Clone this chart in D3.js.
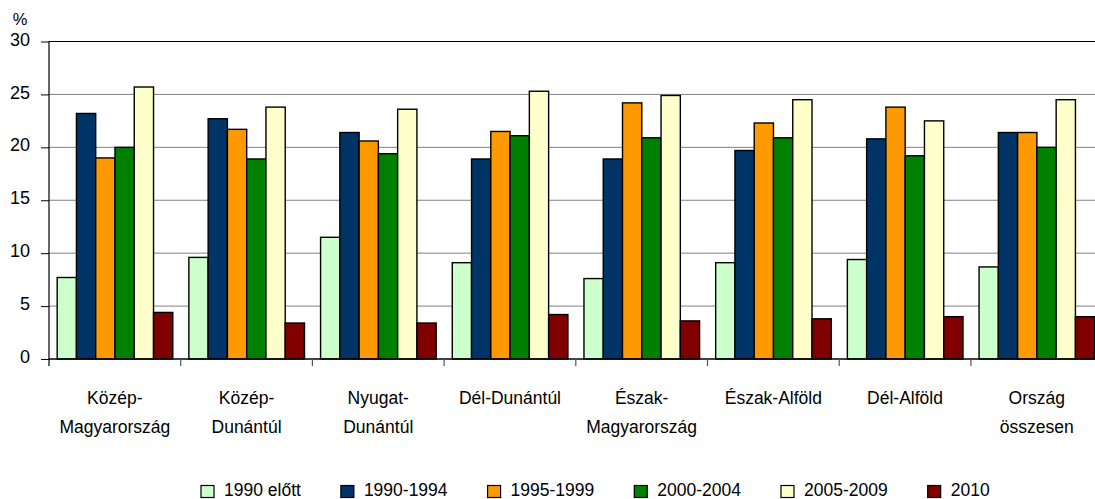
<!DOCTYPE html>
<html>
<head>
<meta charset="utf-8">
<script src="https://cdn.jsdelivr.net/npm/d3@7"></script>
<style>
	body { margin: 0; background: #fff; }
	svg { display: block; font-family: "Liberation Sans", Arial, sans-serif; }
</style>
</head>
<body>
<svg id="chart" width="1095" height="499"></svg>
<script>
// regions (line breaks as in the original labels)
var categories = [
	"Közép-\nMagyarország",
	"Közép-\nDunántúl",
	"Nyugat-\nDunántúl",
	"Dél-Dunántúl",
	"Észak-\nMagyarország",
	"Észak-Alföld",
	"Dél-Alföld",
	"Ország\nösszesen"
];

var seriesNames = ["1990 előtt", "1990-1994", "1995-1999", "2000-2004", "2005-2009", "2010"];
var seriesColors = ["#ccffcc", "#003366", "#ff9900", "#008000", "#ffffcc", "#800000"];

// values in %, one array per period, in the order of categories
var before1990 = [7.7, 9.6, 11.5, 9.1, 7.6, 9.1, 9.4, 8.7];
var p1990_1994 = [23.2, 22.7, 21.4, 18.9, 18.9, 19.7, 20.8, 21.4];
var p1995_1999 = [19.0, 21.7, 20.6, 21.5, 24.2, 22.3, 23.8, 21.4];
var p2000_2004 = [20.0, 18.9, 19.4, 21.1, 20.9, 20.9, 19.2, 20.0];
var p2005_2009 = [25.7, 23.8, 23.6, 25.3, 24.9, 24.5, 22.5, 24.5];
var y2010 = [4.4, 3.4, 3.4, 4.2, 3.6, 3.8, 4.0, 4.0];

var seriesValues = [before1990, p1990_1994, p1995_1999, p2000_2004, p2005_2009, y2010];
var yTicks = [0, 5, 10, 15, 20, 25, 30];

var svg = d3.select("#chart");

// plot area (the last group runs past the right edge, as in the original)
var plotLeft = 49, plotTop = 41.5, plotBottom = 359, groupW = 131.7;
var plotRight = plotLeft + groupW * categories.length;

var x0 = d3.scaleBand()
	.domain(d3.range(categories.length))
	.range([plotLeft, plotRight])
	.padding(0);

var x1 = d3.scaleBand()
	.domain(d3.range(seriesNames.length))
	.range([x0.bandwidth() * 0.062, x0.bandwidth() * 0.94])
	.padding(0);

var y = d3.scaleLinear()
	.domain([0, 30])
	.range([plotBottom, plotTop]);

// gridlines
svg.append("g")
	.selectAll("line")
	.data(yTicks.filter(function(d) { return d > 0 && d < 30; }))
	.enter().append("line")
		.attr("x1", plotLeft).attr("x2", 1095)
		.attr("y1", function(d) { return y(d); })
		.attr("y2", function(d) { return y(d); })
		.attr("stroke", "#808080")
		.attr("stroke-width", 1);

// top border
svg.append("line")
	.attr("x1", plotLeft).attr("x2", 1095)
	.attr("y1", y(30)).attr("y2", y(30))
	.attr("stroke", "#000").attr("stroke-width", 1.2);

// bars
var groups = svg.append("g")
	.selectAll("g")
	.data(categories)
	.enter().append("g")
		.attr("transform", function(d, i) { return "translate(" + x0(i) + ",0)"; });

groups.selectAll("rect")
	.data(function(d, i) { return seriesValues.map(function(s, k) { return { k: k, v: s[i] }; }); })
	.enter().append("rect")
		.attr("x", function(d) { return x1(d.k); })
		.attr("width", x1.bandwidth())
		.attr("y", function(d) { return y(d.v); })
		.attr("height", function(d) { return y(0) - y(d.v); })
		.attr("fill", function(d) { return seriesColors[d.k]; })
		.attr("stroke", "#000")
		.attr("stroke-width", 1.4);

// y axis
var yAxis = svg.append("g")
	.attr("transform", "translate(" + plotLeft + ",0)")
	.call(d3.axisLeft(y).tickValues(yTicks).tickSize(8).tickPadding(11).tickFormat(d3.format("d")));
yAxis.select(".domain").remove();
yAxis.selectAll(".tick line").attr("stroke", "#000");
yAxis.selectAll(".tick text")
	.attr("font-size", 18)
	.attr("fill", "#000")
	.attr("font-family", "Liberation Sans, Arial, sans-serif")
	.attr("dy", "0.2em");

svg.append("line")
	.attr("x1", plotLeft).attr("x2", plotLeft)
	.attr("y1", plotTop).attr("y2", plotBottom + 7)
	.attr("stroke", "#000").attr("stroke-width", 1.2);

svg.append("text")
	.attr("x", 20).attr("y", 25)
	.attr("text-anchor", "middle")
	.attr("font-size", 16.5)
	.text("%");

// x axis
svg.append("line")
	.attr("x1", plotLeft).attr("x2", 1095)
	.attr("y1", plotBottom).attr("y2", plotBottom)
	.attr("stroke", "#000").attr("stroke-width", 1.4);

svg.append("g")
	.selectAll("line")
	.data(d3.range(1, categories.length + 1))
	.enter().append("line")
		.attr("x1", function(d) { return plotLeft + d * groupW; })
		.attr("x2", function(d) { return plotLeft + d * groupW; })
		.attr("y1", plotBottom).attr("y2", plotBottom + 7)
		.attr("stroke", "#555").attr("stroke-width", 1.2);

var labels = svg.append("g")
	.selectAll("text")
	.data(categories)
	.enter().append("text")
		.attr("text-anchor", "middle")
		.attr("font-size", 17.5)
		.attr("x", function(d, i) { return x0(i) + x0.bandwidth() / 2; })
		.attr("y", 404);

labels.selectAll("tspan")
	.data(function(d) { return d.split("\n"); })
	.enter().append("tspan")
		.attr("x", function() { return d3.select(this.parentNode).attr("x"); })
		.attr("dy", function(d, i) { return i === 0 ? 0 : 29; })
		.text(function(d) { return d; });

// legend
var lx = 201;
var legend = svg.append("g");
seriesNames.forEach(function(name, k) {
	legend.append("rect")
		.attr("x", lx).attr("y", 485.5)
		.attr("width", 13).attr("height", 12)
		.attr("fill", seriesColors[k])
		.attr("stroke", "#000").attr("stroke-width", 1.2);
	var t = legend.append("text")
		.attr("x", lx + 23).attr("y", 496)
		.attr("font-size", 17.5)
		.text(name);
	lx += 23 + t.node().getComputedTextLength() + 40;
});
</script>
</body>
</html>
